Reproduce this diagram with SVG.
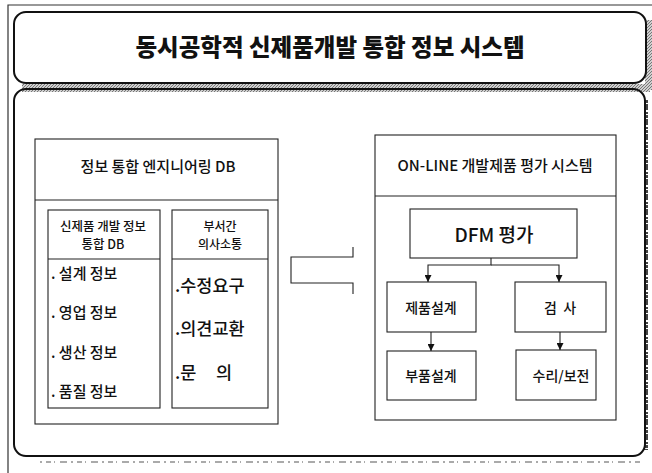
<svg xmlns="http://www.w3.org/2000/svg" width="652" height="473" viewBox="0 0 652 473">
<defs>
<style>
.box{fill:#fff;stroke:#222;stroke-width:1.1}
.t{font-family:"Noto Sans CJK KR","Noto Sans",sans-serif;fill:#111;text-anchor:middle;font-weight:500}
.tl{font-family:"Noto Sans CJK KR","Noto Sans",sans-serif;fill:#111;font-weight:500}
.ln{fill:none;stroke:#222;stroke-width:1.1}
</style>
<pattern id="hatch" width="3" height="3" patternUnits="userSpaceOnUse">
<rect width="3" height="3" fill="#d0d0d0"/>
<path d="M0,3 L3,0" stroke="#777" stroke-width="1"/>
</pattern>
<marker id="arr" viewBox="0 0 10 10" refX="10" refY="5" markerWidth="7" markerHeight="7" orient="auto" markerUnits="userSpaceOnUse">
<path d="M0,0 L10,5 L0,10 z" fill="#111"/>
</marker>
</defs>
<rect width="652" height="473" fill="#fff"/>
<!-- outer frame -->
<path d="M8,473 V5 H652" fill="none" stroke="#333" stroke-width="1.2"/>
<!-- title shadow -->
<rect x="22" y="84" width="628" height="8" fill="url(#hatch)"/>
<rect x="645" y="20" width="7" height="70" fill="url(#hatch)"/>
<!-- body right noisy strip -->
<line x1="646" y1="100" x2="646" y2="450" stroke="#444" stroke-width="4" stroke-dasharray="3 1 6 2 2 1"/>
<!-- body bottom noise -->
<line x1="40" y1="462" x2="640" y2="462" stroke="#aaa" stroke-width="2" stroke-dasharray="2 4 5 3 1 5 7 4"/>
<g id="title">
<rect x="14" y="12" width="632" height="71" rx="12" ry="12" fill="#fff" stroke="#111" stroke-width="2"/>
<text class="t" x="330" y="56" font-size="23.5" style="font-weight:900">동시공학적 신제품개발 통합 정보 시스템</text>
</g>
<g id="body">
<rect x="14" y="89" width="631" height="367" rx="12" ry="12" fill="none" stroke="#111" stroke-width="2"/>
</g>
<g id="left-panel">
<rect class="box" x="35" y="139" width="243" height="285"/>
<line class="ln" x1="35" y1="200" x2="278" y2="200"/>
<text class="t" x="158" y="172" font-size="15">정보 통합 엔지니어링 DB</text>
</g>
<g id="left-db">
<rect class="box" x="48" y="210" width="112" height="198"/>
<line class="ln" x1="48" y1="259" x2="160" y2="259"/>
<text class="t" x="103" y="231" font-size="12.5">신제품 개발 정보</text>
<text class="t" x="103" y="249" font-size="12.5">통합 DB</text>
<text class="tl" x="51" y="279" font-size="15">. 설계 정보</text>
<text class="tl" x="51" y="318" font-size="15">. 영업 정보</text>
<text class="tl" x="51" y="358" font-size="15">. 생산 정보</text>
<text class="tl" x="51" y="397" font-size="15">. 품질 정보</text>
</g>
<g id="left-comm">
<rect class="box" x="172" y="210" width="96" height="198"/>
<line class="ln" x1="172" y1="259" x2="268" y2="259"/>
<text class="t" x="220" y="231" font-size="12">부서간</text>
<text class="t" x="220" y="249" font-size="12">의사소통</text>
<text class="tl" x="175" y="292" font-size="17.5">.수정요구</text>
<text class="tl" x="175" y="335" font-size="17.5">.의견교환</text>
<text class="tl" x="175" y="379" font-size="17.5" xml:space="preserve">.문     의</text>
</g>
<g id="right-panel">
<rect class="box" x="375" y="135" width="241" height="285"/>
<line class="ln" x1="375" y1="196" x2="616" y2="196"/>
<text class="t" x="495" y="171" font-size="15">ON-LINE 개발제품 평가 시스템</text>
</g>
<g id="dfm">
<rect class="box" x="410" y="209" width="167" height="49"/>
<text class="t" x="494" y="242" font-size="19">DFM 평가</text>
</g>
<g id="product-design">
<rect class="box" x="387" y="282" width="89" height="50"/>
<text class="t" x="431" y="313" font-size="14">제품설계</text>
</g>
<g id="inspection">
<rect class="box" x="515" y="282" width="91" height="50"/>
<text class="t" x="560" y="313" font-size="14" xml:space="preserve">검  사</text>
</g>
<g id="part-design">
<rect class="box" x="387" y="351" width="89" height="49"/>
<text class="t" x="431" y="381" font-size="14">부품설계</text>
</g>
<g id="repair">
<rect class="box" x="516" y="350" width="80" height="50"/>
<text class="t" x="561" y="381" font-size="14">수리/보전</text>
</g>
<g id="connectors">
<path class="ln" d="M353,247 V257 H291 V283 H353 V294"/>
<path class="ln" d="M491,258 V265 H428 V282" marker-end="url(#arr)"/>
<path class="ln" d="M491,265 H559 V282" marker-end="url(#arr)"/>
<path class="ln" d="M431,332 V351" marker-end="url(#arr)"/>
<path class="ln" d="M560,332 V350" marker-end="url(#arr)"/>
</g>
</svg>
